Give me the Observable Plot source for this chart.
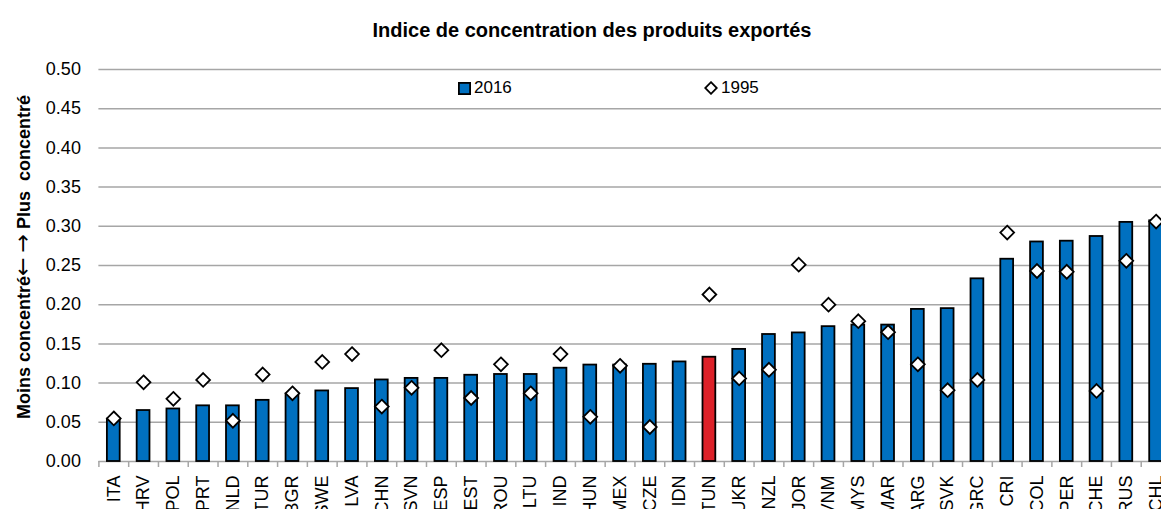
<!DOCTYPE html>
<html>
<head>
<meta charset="utf-8">
<script src="https://cdn.jsdelivr.net/npm/d3@7"></script>
<script src="https://cdn.jsdelivr.net/npm/@observablehq/plot@0.6"></script>
<style>
  html, body { margin: 0; padding: 0; background: #fff; overflow: hidden; }
  #wrap { position: relative; width: 1161px; height: 509px; overflow: hidden; font-family: "Liberation Sans", Arial, sans-serif; }
  #title { height: 50px; line-height: 61px; text-align: center; padding-left: 23px; box-sizing: border-box; font-weight: bold; font-size: 20px; color: #000; }
  #ylabel { position: absolute; left: 22px; top: 257px; transform: translate(-50%, -50%) rotate(-90deg); white-space: pre; font-weight: bold; font-size: 18px; color: #000; }
  #ylabel .arr { font-size: 22px; font-family: "DejaVu Sans", sans-serif; font-weight: normal; }
  .leg { position: absolute; top: 79px; font-size: 17px; line-height: 18px; color: #000; display: flex; align-items: center; }
  #chart svg { display: block; overflow: hidden; }
</style>
</head>
<body>
<div id="wrap">
  <div id="title"></div>
  <div id="chart"></div>
  <div id="ylabel"></div>
  <div id="legend"></div>
</div>
<script>
const title = "Indice de concentration des produits exportés";
const yLabelParts = ["Moins concentré", "←", " ", "→", " Plus  concentré"];
const categories = ["ITA","HRV","POL","PRT","NLD","TUR","BGR","SWE","LVA","CHN","SVN","ESP","EST","ROU","LTU","IND","HUN","MEX","CZE","IDN","TUN","UKR","NZL","JOR","VNM","MYS","MAR","ARG","SVK","GRC","CRI","COL","PER","CHE","RUS","CHL"];
const v2016 = [0.054,0.065,0.067,0.071,0.071,0.078,0.086,0.090,0.093,0.104,0.106,0.106,0.110,0.111,0.111,0.119,0.123,0.123,0.124,0.127,0.133,0.143,0.162,0.164,0.172,0.174,0.174,0.194,0.195,0.233,0.258,0.280,0.281,0.287,0.305,0.307];
const v1995 = [0.055,0.101,0.080,0.104,0.052,0.111,0.087,0.127,0.137,0.070,0.094,0.142,0.081,0.124,0.087,0.137,0.057,0.122,0.044,null,0.213,0.106,0.117,0.251,0.200,0.179,0.165,0.124,0.091,0.104,0.292,0.243,0.242,0.090,0.256,0.306];
const seriesNames = ["2016", "1995"];
const highlight = "TUN";
const yTicks = [0, 0.05, 0.10, 0.15, 0.20, 0.25, 0.30, 0.35, 0.40, 0.45, 0.50];

const blue = "#0070C0", red = "#DC2128", gridColor = "#A6A6A6";

const rows = categories.map((c, i) => ({cat: c, v2016: v2016[i], v1995: v1995[i]}));

document.getElementById("title").textContent = title;
document.getElementById("ylabel").innerHTML = yLabelParts.map(p => (p === "←" || p === "→") ? `<span class="arr">${p}</span>` : `<span>${p}</span>`).join("");

const xRange = [98.4, 1170.5];
const step = (xRange[1] - xRange[0]) / categories.length;
const pad = 0.57;

const chart = Plot.plot({
  width: 1161,
  height: 459,
  marginTop: 19,
  marginBottom: 48,
  marginLeft: 98.4,
  marginRight: 0,
  style: {fontFamily: "'Liberation Sans', Arial, sans-serif", fontSize: "18px", color: "#000", background: "#fff"},
  x: {domain: categories, range: xRange, paddingInner: pad, paddingOuter: pad / 2, round: false, axis: null},
  y: {domain: [0, 0.5], axis: null},
  marks: [
    Plot.gridY(yTicks, {stroke: gridColor, strokeOpacity: 1, strokeWidth: 1.5}),
    Plot.axisY(yTicks, {tickSize: 0, tickPadding: 18, tickFormat: d3.format(".2f"), label: null, fontSize: 18}),
    Plot.axisX(categories, {tickSize: 6, tickFormat: () => "", dx: -step / 2, stroke: gridColor, strokeWidth: 1.5, strokeOpacity: 1, label: null}),
    Plot.axisX(categories, {tickSize: 0, tickPadding: 14, tickRotate: -90, label: null, fontSize: 18}),
    Plot.barY(rows, {x: "cat", y: "v2016", fill: d => d.cat === highlight ? red : blue, stroke: "#000", strokeWidth: 1.8}),
    Plot.dot(rows.filter(d => d.v1995 != null), {x: "cat", y: "v1995", symbol: "diamond2", r: 6.2, fill: "#fff", stroke: "#000", strokeWidth: 1.8})
  ]
});
document.getElementById("chart").appendChild(chart);

// legend
const legend = document.getElementById("legend");
const items = [
  {name: seriesNames[0], left: 458, sw: `<svg width="13" height="13" style="margin-right:3px"><rect x="0.9" y="0.9" width="11.2" height="11.2" fill="${blue}" stroke="#000" stroke-width="1.8"/></svg>`},
  {name: seriesNames[1], left: 704, sw: `<svg width="14" height="14" style="margin-right:3px"><path d="M7,1.2L12.8,7L7,12.8L1.2,7Z" fill="#fff" stroke="#000" stroke-width="1.8"/></svg>`}
];
for (const it of items) {
  const d = document.createElement("div");
  d.className = "leg";
  d.style.left = it.left + "px";
  d.innerHTML = it.sw + `<span>${it.name}</span>`;
  legend.appendChild(d);
}
</script>
</body>
</html>
